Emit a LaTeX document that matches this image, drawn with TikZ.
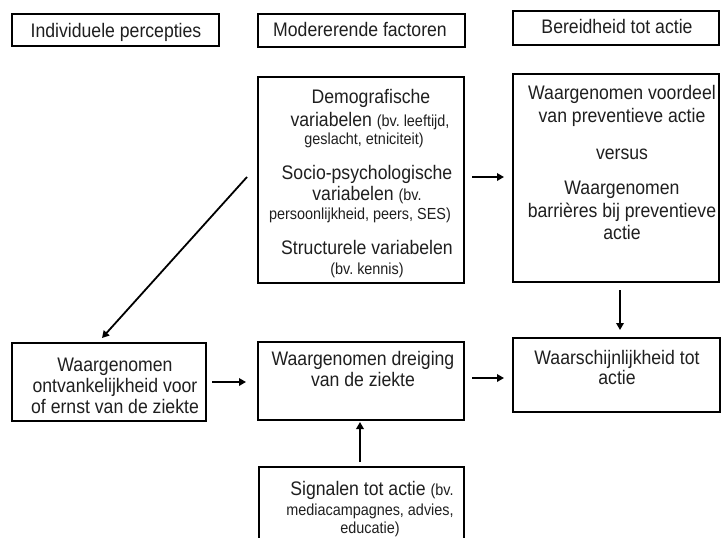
\documentclass[tikz,border=0pt]{standalone}
\usepackage{fontspec}
\setmainfont{Liberation Sans}[FakeStretch=0.9]
\usetikzlibrary{calc,arrows.meta}
\frenchspacing
\newcommand{\mainsz}{\fontsize{19.6}{23}\selectfont}
\newcommand{\smallsz}{\fontsize{16}{19}\selectfont}
\tikzset{
  box/.style={draw=black, line width=1.8pt, inner sep=0pt, outer sep=0pt, fill=none},
  txt/.style={anchor=base, inner sep=0pt, outer sep=0pt, font=\mainsz, text=black!88},
  stxt/.style={anchor=base, inner sep=0pt, outer sep=0pt, font=\smallsz, text=black!88},
  arr/.style={line width=1.8pt, -{Triangle[length=7pt,width=7.5pt]}}
}
\begin{document}
\begin{tikzpicture}[x=1pt,y=-1pt]
\useasboundingbox (0,0) rectangle (721,538);
\clip (0,0) rectangle (721,538);
\fill[white] (0,0) rectangle (721,538);
% header boxes
\node[box, minimum width=207pt, minimum height=32pt] (h1) at (115.5,30) {};
\node[box, minimum width=207pt, minimum height=33pt] (h2) at (361.5,30.5) {};
\node[box, minimum width=206pt, minimum height=34pt] (h3) at (616,28) {};
\node[txt] (t1) at (116,37) {Individuele percepties};
\node[txt] (t2) at (360,36) {Modererende factoren};
\node[txt] (t3) at (617,33) {Bereidheid tot actie};
% main boxes
\node[box, minimum width=206pt, minimum height=206pt] (mod) at (361,180) {};
\node[box, minimum width=206pt, minimum height=208pt] (ben) at (616,178) {};
\node[box, minimum width=194pt, minimum height=78pt] (ont) at (109,382) {};
\node[box, minimum width=206pt, minimum height=78pt] (dre) at (361,381) {};
\node[box, minimum width=207pt, minimum height=74pt] (waa) at (616.5,375) {};
\node[box, minimum width=205pt, minimum height=103pt] (sig) at (361.5,518.5) {};
% moderating factors text
\node[txt] (m1) at (371,103) {Demografische};
\node[txt] (m2) at (370,126) {variabelen {\smallsz (bv. leeftijd,}};
\node[stxt] (m3) at (364,144) {geslacht, etniciteit)};
\node[txt] (m4) at (367,179) {Socio-psychologische};
\node[txt] (m5) at (367,200) {variabelen {\smallsz (bv.}};
\node[stxt] (m6) at (360,219) {persoonlijkheid, peers, SES)};
\node[txt] (m7) at (367,254) {Structurele variabelen};
\node[stxt] (m8) at (367,274) {(bv. kennis)};
% readiness text
\node[txt] (b1) at (622,99) {Waargenomen voordeel};
\node[txt] (b2) at (622,122) {van preventieve actie};
\node[txt] (b3) at (622,159) {versus};
\node[txt] (b4) at (622,194) {Waargenomen};
\node[txt] (b5) at (622,217) {barrières bij preventieve};
\node[txt] (b6) at (622,239) {actie};
% perceived susceptibility
\node[txt] (o1) at (115,371) {Waargenomen};
\node[txt] (o2) at (115,392) {ontvankelijkheid voor};
\node[txt] (o3) at (115,413) {of ernst van de ziekte};
% threat
\node[txt] (d1) at (363,365) {Waargenomen dreiging};
\node[txt] (d2) at (363,386) {van de ziekte};
% likelihood
\node[txt] (w1) at (617,364) {Waarschijnlijkheid tot};
\node[txt] (w2) at (617,384) {actie};
% cues
\node[txt] (s1) at (372,495) {Signalen tot actie {\smallsz (bv.}};
\node[stxt] (s2) at (370,515) {mediacampagnes, advies,};
\node[stxt] (s3) at (370,533) {educatie)};
% arrows
\draw[arr] ($(mod.east)+(8,-3)$) -- ($(ben.west)+(-9,-1)$);
\draw[arr] ($(mod.west)+(-11,-3)$) -- ($(ont.north)+(-7,-5)$);
\draw[arr] ($(ben.south)+(4,8)$) -- ($(waa.north)+(3.5,-8)$);
\draw[arr] ($(ont.east)+(6,0)$) -- ($(dre.west)+(-12,1)$);
\draw[arr] ($(dre.east)+(8,-3)$) -- ($(waa.west)+(-9,3)$);
\draw[arr] ($(sig.north)+(-1.5,-5)$) -- ($(dre.south)+(-1,2)$);
\end{tikzpicture}
\end{document}
